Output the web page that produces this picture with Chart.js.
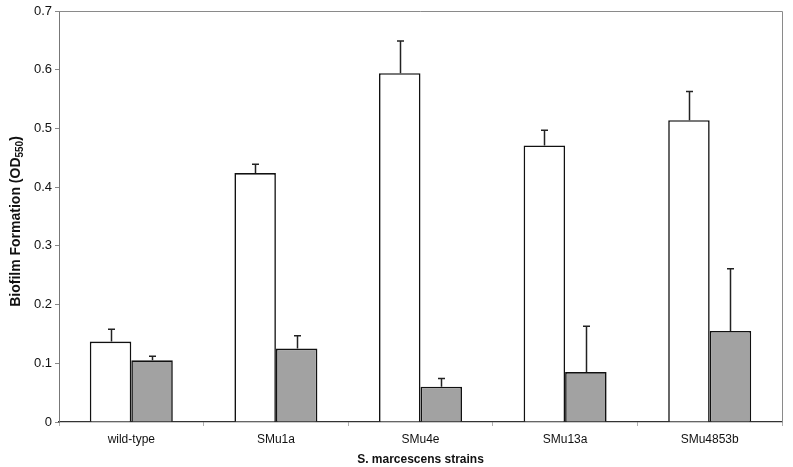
<!DOCTYPE html>
<html>
<head>
<meta charset="utf-8">
<script src="https://cdn.jsdelivr.net/npm/chart.js@4/dist/chart.umd.min.js"></script>
<style>
  html, body { margin: 0; padding: 0; background: #fff; }
  #wrap { width: 793px; height: 467px; }
</style>
</head>
<body>
<div id="wrap"><canvas id="c" width="793" height="467"></canvas></div>
<script>
const categories = ["wild-type", "SMu1a", "SMu4e", "SMu13a", "SMu4853b"];
const whiteValues = [0.137, 0.424, 0.594, 0.471, 0.514];
const whiteErrors = [0.021, 0.015, 0.055, 0.026, 0.049];
const grayValues = [0.105, 0.125, 0.060, 0.085, 0.155];
const grayErrors = [0.007, 0.022, 0.014, 0.078, 0.106];
const yTicks = [0, 0.1, 0.2, 0.3, 0.4, 0.5, 0.6, 0.7];

const FONT = "'Liberation Sans', Arial, sans-serif";

const errorBarPlugin = {
  id: 'errorBars',
  afterDatasetsDraw(chart) {
    const ctx = chart.ctx;
    const y = chart.scales.y;
    const errs = [whiteErrors, grayErrors];
    ctx.save();
    ctx.strokeStyle = '#222';
    ctx.lineWidth = 1.5;
    chart.data.datasets.forEach((ds, di) => {
      const meta = chart.getDatasetMeta(di);
      meta.data.forEach((bar, i) => {
        const v = ds.data[i];
        const top = y.getPixelForValue(v + errs[di][i]);
        const base = y.getPixelForValue(v);
        const x = Math.round(bar.x) + 0.5;
        ctx.beginPath();
        ctx.moveTo(x, base);
        ctx.lineTo(x, top);
        ctx.moveTo(x - 3.5, top);
        ctx.lineTo(x + 3.5, top);
        ctx.stroke();
      });
    });
    ctx.restore();
  }
};

const framePlugin = {
  id: 'frame',
  beforeDatasetsDraw(chart) {
    const {ctx, chartArea: a} = chart;
    ctx.save();
    ctx.strokeStyle = '#8a8a8a';
    ctx.lineWidth = 1;
    ctx.beginPath();
    ctx.moveTo(a.left, a.top + 0.5);
    ctx.lineTo(a.right + 0.5, a.top + 0.5);
    ctx.lineTo(a.right + 0.5, a.bottom);
    ctx.stroke();
    ctx.restore();
  },
  afterDraw(chart) {
    const {ctx, chartArea: a} = chart;
    ctx.save();
    ctx.translate(16, (a.top + a.bottom) / 2 + 5);
    ctx.rotate(-Math.PI / 2);
    ctx.fillStyle = '#111';
    ctx.textBaseline = 'middle';
    const main = 'Biofilm Formation (OD';
    const sub = '550';
    const end = ')';
    ctx.font = 'bold 14px ' + FONT;
    const w1 = ctx.measureText(main).width;
    ctx.font = 'bold 10px ' + FONT;
    const w2 = ctx.measureText(sub).width;
    ctx.font = 'bold 14px ' + FONT;
    const w3 = ctx.measureText(end).width;
    const total = w1 + w2 + w3;
    let x = -total / 2;
    ctx.textAlign = 'left';
    ctx.fillText(main, x, 0);
    x += w1;
    ctx.font = 'bold 10px ' + FONT;
    ctx.fillText(sub, x, 4);
    x += w2;
    ctx.font = 'bold 14px ' + FONT;
    ctx.fillText(end, x, 0);
    ctx.restore();
  }
};

new Chart(document.getElementById('c'), {
  type: 'bar',
  data: {
    labels: categories,
    datasets: [
      {
        label: 'white',
        data: whiteValues,
        backgroundColor: '#ffffff',
        borderColor: '#111',
        borderWidth: 1.6,
        borderSkipped: 'bottom',
        barPercentage: 1,
        categoryPercentage: 0.574
      },
      {
        label: 'gray',
        data: grayValues,
        backgroundColor: '#a2a2a2',
        borderColor: '#111',
        borderWidth: 1.6,
        borderSkipped: 'bottom',
        barPercentage: 1,
        categoryPercentage: 0.574
      }
    ]
  },
  options: {
    responsive: false,
    animation: false,
    devicePixelRatio: 1,
    layout: { padding: { top: 11, right: 11, left: 0, bottom: 0 } },
    plugins: {
      legend: { display: false },
      tooltip: { enabled: false },
      title: { display: false }
    },
    scales: {
      x: {
        grid: {
          display: true,
          drawOnChartArea: false,
          drawTicks: true,
          tickLength: 4,
          color: '#b0b0b0',
          offset: true
        },
        border: { display: true, color: '#333', width: 1.2 },
        ticks: {
          color: '#111',
          font: { family: FONT, size: 12 },
          padding: 6
        },
        title: {
          display: true,
          text: 'S. marcescens strains',
          color: '#111',
          font: { family: FONT, size: 12, weight: 'bold' },
          padding: { top: 3, bottom: 0 }
        },
        afterFit(scale) { scale.height = 45; }
      },
      y: {
        min: 0,
        max: 0.7,
        afterBuildTicks(scale) {
          scale.ticks = yTicks.map(v => ({ value: v }));
        },
        grid: {
          display: true,
          drawOnChartArea: false,
          drawTicks: true,
          tickLength: 4,
          color: '#888'
        },
        border: { display: true, color: '#777', width: 1 },
        ticks: {
          color: '#111',
          font: { family: FONT, size: 13 },
          padding: 3,
          callback: (v) => String(v)
        },
        afterFit(scale) { scale.width = 59; }
      }
    }
  },
  plugins: [framePlugin, errorBarPlugin]
});
</script>
</body>
</html>
